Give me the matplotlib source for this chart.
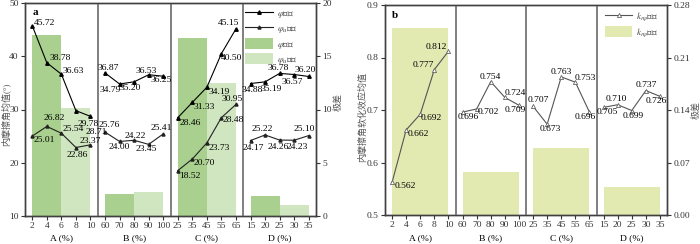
import matplotlib
matplotlib.use('Agg')
import matplotlib.pyplot as plt
from matplotlib.patches import Patch
from matplotlib.lines import Line2D
from matplotlib.transforms import blended_transform_factory

plt.rcParams['font.family'] = ['Liberation Serif', 'Noto Sans CJK SC']
plt.rcParams['mathtext.fontset'] = 'stix'

# ── Data ──
factors = ["A", "B", "C", "D"]
levels = [[2, 4, 6, 8, 10], [60, 70, 80, 90, 100], [25, 35, 45, 55, 65], [15, 20, 25, 30, 35]]

phi_mean = [45.72, 38.78, 36.63, 29.78, 28.71,
            36.87, 34.79, 35.20, 36.53, 36.25,
            28.46, 31.33, 34.19, 40.50, 45.15,
            34.88, 35.19, 36.78, 36.57, 36.20]
phiu_mean = [25.01, 26.82, 25.54, 22.86, 23.37,
             25.76, 24.00, 24.22, 23.45, 25.41,
             18.52, 20.70, 23.73, 28.48, 30.95,
             24.17, 25.22, 24.26, 24.23, 25.10]
phi_range = [17.0, 2.05, 16.75, 1.9]
phiu_range = [10.1, 2.3, 12.5, 1.03]

k_mean = [0.562, 0.662, 0.692, 0.777, 0.812,
          0.696, 0.702, 0.754, 0.724, 0.709,
          0.707, 0.673, 0.763, 0.753, 0.696,
          0.705, 0.710, 0.699, 0.737, 0.726]
k_range = [0.25, 0.058, 0.09, 0.038]

# label offsets (pixels) for the value annotations
off_phi = [(12, 3), (13, 5), (12, 3), (12, -13), (6, -16),
           (3, 5), (-9, -6), (-4, -6), (-2, 4), (-2, -4),
           (12, -5), (12, -5), (12, -5), (10, -4), (-7, 6),
           (2, -6), (6, -7), (-1, 5), (-2, -7), (-4, 6)]
off_phiu = [(12, -4), (7, 8), (12, 4), (1, -7), (0, 4),
            (4, 7), (0, -6), (1, 4), (-2, -5), (-2, 6),
            (12, -5), (12, -4), (12, -5), (12, -2), (-4, 5),
            (3, -7), (-3, 6), (-1, -7), (3, -7), (-4, 7)]
off_k = [(13, -4), (12, -4), (11, -4), (-11, 5), (-12, 4),
         (6, -5), (12, -3), (0, 5), (10, 4), (-4, -5),
         (5, 6), (3, -5), (0, 5), (10, 4), (-4, -5),
         (4, -5), (-1, 6), (1, -5), (0, 6), (-4, -5)]

C_DARK = "#a9d08e"
C_LIGHT = "#d0e6c0"
C_KBAR = "#e2eab2"
SPINE = "#404040"
FS = 6.8

fig = plt.figure(figsize=(7.0, 2.44), dpi=100)
axa = fig.add_axes([25 / 700, 28 / 244, 291 / 700, 213 / 244])
axb = fig.add_axes([385 / 700, 29 / 244, 282 / 700, 210 / 244])


def setup_x(ax):
    pos = [g * 5 + i + 0.5 for g in range(4) for i in range(5)]
    labs = [str(v) for lv in levels for v in lv]
    ax.set_xlim(0, 20)
    ax.set_xticks(pos)
    ax.set_xticklabels(labs)
    for xs in (5, 10, 15):
        ax.axvline(xs, color="#7f7f7f", lw=1.4, zorder=1)
    tr = blended_transform_factory(ax.transData, fig.transFigure)
    for g, f in enumerate(factors):
        ax.text(g * 5 + 2.5, 6 / 244, f"{f} (%)", transform=tr, ha="center", va="center", fontsize=FS)
    return pos


def style(ax):
    for s in ax.spines.values():
        s.set_color(SPINE)
        s.set_linewidth(1.0)
    ax.tick_params(direction="out", length=3, width=0.8, colors="#333333", labelsize=FS, pad=1.5)


# ── Panel a ──
ra = axa.twinx()
pos = setup_x(axa)
for g in range(4):
    ra.bar(g * 5 + 0.5, phi_range[g], width=2, align="edge", color=C_DARK, zorder=1)
    ra.bar(g * 5 + 2.5, phiu_range[g], width=2, align="edge", color=C_LIGHT, zorder=1)
ra.set_ylim(0, 20)
ra.set_yticks([0, 5, 10, 15, 20])
axa.set_zorder(ra.get_zorder() + 1)
axa.patch.set_visible(False)
axa.set_ylim(10, 50)
axa.set_yticks([10, 20, 30, 40, 50])
for g in range(4):
    sl = slice(g * 5, g * 5 + 5)
    axa.plot(pos[sl], phi_mean[sl], color="black", lw=0.8, marker="^", ms=2.5, zorder=3)
    axa.plot(pos[sl], phiu_mean[sl], color="#222222", lw=0.8, marker="^", ms=2.2, zorder=3)
for x, v, o in zip(pos, phi_mean, off_phi):
    axa.annotate(f"{v:.2f}", (x, v), xytext=o, textcoords="offset pixels", ha="center", va="center", fontsize=FS)
for x, v, o in zip(pos, phiu_mean, off_phiu):
    axa.annotate(f"{v:.2f}", (x, v), xytext=o, textcoords="offset pixels", ha="center", va="center", fontsize=FS)
style(axa)
style(ra)
axa.text(0.025, 0.975, "a", transform=axa.transAxes, fontsize=8, fontweight="bold", va="top")
handles = [Line2D([], [], color="black", lw=0.8, marker="^", ms=2.5),
           Line2D([], [], color="#222222", lw=0.8, marker="^", ms=2.2),
           Patch(facecolor=C_DARK), Patch(facecolor=C_LIGHT)]
labels = [r"$\varphi$均值", r"$\varphi_u$均值", r"$\varphi$极差", r"$\varphi_u$极差"]
axa.legend(handles, labels, loc="upper left", bbox_to_anchor=(0.74, 1.0), frameon=False,
           fontsize=6.6, handlelength=3.0, handleheight=1.4, labelspacing=0.3, borderaxespad=0.15,
           handletextpad=0.4, labelcolor="#444444")

fig.text(5 / 700, 0.53, "内摩擦角均值(°)", rotation=90, ha="center", va="center", fontsize=6.5, color="#555555")
fig.text(338 / 700, 0.58, "极差", rotation=90, ha="center", va="center", fontsize=6.5, color="#555555")

# ── Panel b ──
rb = axb.twinx()
pos = setup_x(axb)
for g in range(4):
    rb.bar(g * 5 + 0.5, k_range[g], width=4, align="edge", color=C_KBAR, zorder=1)
rb.set_ylim(0, 0.28)
rb.set_yticks([0, 0.07, 0.14, 0.21, 0.28])
rb.set_yticklabels([f"{t:.2f}" for t in [0, 0.07, 0.14, 0.21, 0.28]])
axb.set_zorder(rb.get_zorder() + 1)
axb.patch.set_visible(False)
axb.set_ylim(0.5, 0.9)
axb.set_yticks([0.5, 0.6, 0.7, 0.8, 0.9])
for g in range(4):
    sl = slice(g * 5, g * 5 + 5)
    axb.plot(pos[sl], k_mean[sl], color="#555555", lw=0.8, marker="^", ms=3,
             mfc="white", mec="#666666", mew=0.6, zorder=3)
for x, v, o in zip(pos, k_mean, off_k):
    axb.annotate(f"{v:.3f}", (x, v), xytext=o, textcoords="offset pixels", ha="center", va="center", fontsize=FS)
style(axb)
style(rb)
axb.text(0.025, 0.97, "b", transform=axb.transAxes, fontsize=8, fontweight="bold", va="top")
handles = [Line2D([], [], color="#555555", lw=0.8, marker="^", ms=3, mfc="white", mec="#666666", mew=0.6),
           Patch(facecolor=C_KBAR)]
labels = [r"$k_{r\varphi}$均值", r"$k_{r\varphi}$极差"]
axb.legend(handles, labels, loc="upper left", bbox_to_anchor=(0.76, 1.0), frameon=False,
           fontsize=6.6, handlelength=3.0, handleheight=1.4, labelspacing=0.3, borderaxespad=0.2,
           handletextpad=0.4, labelcolor="#444444")

fig.text(362 / 700, 0.52, "内摩擦角软化效应均值", rotation=90, ha="center", va="center", fontsize=6.5, color="#555555")
fig.text(696 / 700, 0.55, "极差", rotation=90, ha="center", va="center", fontsize=6.5, color="#555555")

fig.savefig("out.png", dpi=100)
plt.close()
